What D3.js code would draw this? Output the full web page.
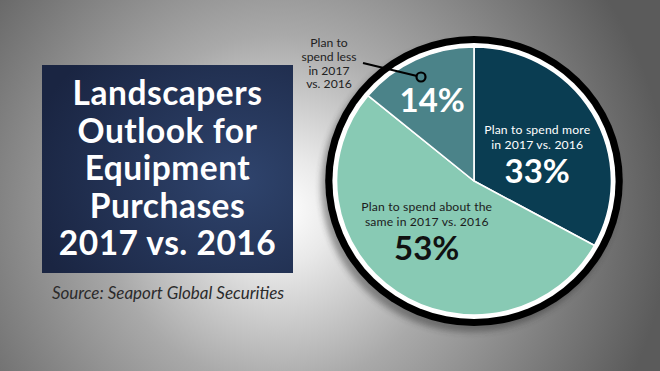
<!DOCTYPE html>
<html>
<head>
<meta charset="utf-8">
<script src="https://cdn.jsdelivr.net/npm/d3@7/dist/d3.min.js"></script>
<style>
  html, body { margin: 0; padding: 0; background: #888; }
  svg { display: block; font-family: Lato, "Open Sans", sans-serif; }
</style>
</head>
<body>
<div id="chart"></div>
<script>
// data
const categories = ["Plan to spend more in 2017 vs. 2016",
                    "Plan to spend about the same in 2017 vs. 2016",
                    "Plan to spend less in 2017 vs. 2016"];
const shares = [33, 53, 14];
const sliceColors = ["#0a3d52", "#88cab4", "#4b8389"];
const titleLines = ["Landscapers", "Outlook for", "Equipment", "Purchases", "2017 vs. 2016"];
const source = "Source: Seaport Global Securities";

const width = 660, height = 371;
const cx = 474, cy = 181;
const rPie = 134, rWhite = 138, rBlack = 145;
const sx = 1.026; // pie is a touch wider than tall

const svg = d3.select("#chart").append("svg")
  .attr("width", width)
  .attr("height", height);

const defs = svg.append("defs");

// background radial
const bg = defs.append("radialGradient")
  .attr("id", "bg")
  .attr("gradientUnits", "userSpaceOnUse")
  .attr("cx", 280).attr("cy", 210).attr("r", 390);
[[0, "#ffffff"], [0.14, "#e9e9e9"], [0.45, "#a9a9a9"], [0.78, "#7a7a7a"], [1, "#5b5b5b"]]
  .forEach(s => bg.append("stop").attr("offset", s[0]).attr("stop-color", s[1]));

// title box gradient
const boxG = defs.append("radialGradient")
  .attr("id", "boxg")
  .attr("cx", "78%").attr("cy", "55%").attr("r", "85%");
boxG.append("stop").attr("offset", 0).attr("stop-color", "#2f446d");
boxG.append("stop").attr("offset", 1).attr("stop-color", "#1a2542");

defs.append("filter").attr("id", "blur")
  .attr("x", "-20%").attr("y", "-20%").attr("width", "140%").attr("height", "140%")
  .append("feGaussianBlur").attr("stdDeviation", 3);

svg.append("rect").attr("width", width).attr("height", height).attr("fill", "url(#bg)");

// title box
const box = { x: 42, y: 65, w: 251, h: 208 };
svg.append("rect")
  .attr("x", box.x).attr("y", box.y)
  .attr("width", box.w).attr("height", box.h)
  .attr("fill", "url(#boxg)");

svg.append("g").selectAll("text")
  .data(titleLines)
  .join("text")
  .attr("x", box.x + box.w / 2)
  .attr("y", (d, i) => 105 + i * 37.6)
  .attr("text-anchor", "middle")
  .attr("fill", "#ffffff")
  .attr("font-size", 33.5)
  .attr("font-weight", 700)
  .attr("letter-spacing", 0.5)
  .text(d => d);

svg.append("text")
  .attr("x", 168).attr("y", 299)
  .attr("text-anchor", "middle")
  .attr("fill", "#2b2b2b")
  .attr("font-size", 17)
  .attr("font-style", "italic")
  .text(source);

// pie
const pieG = svg.append("g")
  .attr("transform", `translate(${cx},${cy}) scale(${sx},1)`);

pieG.append("circle")
  .attr("cx", -4).attr("cy", 6).attr("r", rBlack)
  .attr("fill", "#2a2a2a").attr("opacity", 0.45)
  .attr("filter", "url(#blur)");
pieG.append("circle").attr("r", rBlack).attr("fill", "#000");
pieG.append("circle").attr("r", rWhite).attr("fill", "#fff");

const pie = d3.pie().sort(null).value(d => d)(shares);
const arc = d3.arc().innerRadius(0).outerRadius(rPie);

pieG.selectAll("path.slice")
  .data(pie)
  .join("path")
  .attr("class", "slice")
  .attr("d", arc)
  .attr("fill", (d, i) => sliceColors[i])
  .attr("stroke", "#fff")
  .attr("stroke-width", 1.6)
  .attr("stroke-linejoin", "round");

// in-slice labels, placed from the slice centroid (anchor = percent baseline)
const labelArc = d3.arc().innerRadius(75).outerRadius(75);
const nudge = [[-3, 40], [-4, 17], [-9, -1]];
const labelLines = [["Plan to spend more", "in 2017 vs. 2016"],
                    ["Plan to spend about the", "same in 2017 vs. 2016"],
                    []];
const textCol = ["#ffffff", "#1c1c1c", "#ffffff"];
const pctCol = ["#ffffff", "#111111", "#ffffff"];

pie.forEach((d, i) => {
  const c = labelArc.centroid(d);
  const x = cx + c[0] * sx + nudge[i][0];
  const y = cy + c[1] + nudge[i][1];
  const g = svg.append("g").attr("transform", `translate(${x},${y})`);
  const lines = labelLines[i];
  lines.forEach((t, j) => {
    g.append("text")
      .attr("x", 0).attr("y", -34 - (lines.length - 1 - j) * 14.8)
      .attr("text-anchor", "middle")
      .attr("fill", textCol[i])
      .attr("font-size", 12.2)
      .attr("letter-spacing", 0.15)
      .text(t);
  });
  g.append("text")
    .attr("x", 0).attr("y", 0)
    .attr("text-anchor", "middle")
    .attr("fill", pctCol[i])
    .attr("font-size", 33)
    .attr("font-weight", 700)
    .text(shares[i] + "%");
});

// callout for the small slice
const callout = ["Plan to", "spend less", "in 2017", "vs. 2016"];
svg.append("g").selectAll("text")
  .data(callout)
  .join("text")
  .attr("x", 329)
  .attr("y", (d, i) => 47 + i * 13.8)
  .attr("text-anchor", "middle")
  .attr("fill", "#222")
  .attr("font-size", 12.2)
  .text(d => d);

svg.append("line")
  .attr("x1", 363).attr("y1", 63)
  .attr("x2", 417).attr("y2", 76)
  .attr("stroke", "#000").attr("stroke-width", 2.2);
svg.append("circle")
  .attr("cx", 421).attr("cy", 77).attr("r", 4.5)
  .attr("fill", sliceColors[2])
  .attr("stroke", "#000").attr("stroke-width", 2.2);
</script>
</body>
</html>
